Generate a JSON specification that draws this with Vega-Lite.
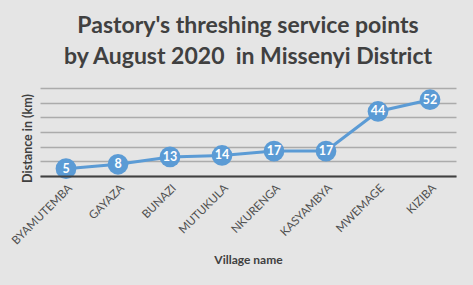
{
  "$schema": "https://vega.github.io/schema/vega-lite/v6.json",
  "width": 416,
  "height": 88,
  "autosize": {"type": "none"},
  "padding": {"left": 40, "top": 88, "right": 17, "bottom": 109},
  "background": "#e5e5e5",
  "title": {
    "text": ["Pastory's threshing service points", "by August 2020\u00a0 in Missenyi District"],
    "font": "Lato",
    "fontSize": 23,
    "fontWeight": "bold",
    "color": "#404040",
    "anchor": "middle",
    "lineHeight": 31,
    "offset": 19
  },
  "config": {
    "view": {"stroke": null},
    "font": "Lato"
  },
  "data": {
    "values": [
      {"village": "BYAMUTEMBA", "distance": 5},
      {"village": "GAYAZA", "distance": 8},
      {"village": "BUNAZI", "distance": 13},
      {"village": "MUTUKULA", "distance": 14},
      {"village": "NKURENGA", "distance": 17},
      {"village": "KASYAMBYA", "distance": 17},
      {"village": "MWEMAGE", "distance": 44},
      {"village": "KIZIBA", "distance": 52}
    ]
  },
  "encoding": {
    "x": {
      "field": "village",
      "type": "ordinal",
      "sort": null,
      "scale": {"type": "point", "padding": 0.5},
      "axis": {
        "title": "Village name",
        "titleFont": "Lato",
        "titleFontSize": 12,
        "titleFontWeight": "bold",
        "titleColor": "#404040",
        "titleBaseline": "middle",
        "titleY": 83,
        "labelAngle": -45,
        "labelFontSize": 11.5,
        "labelColor": "#505050",
        "labelPadding": 6,
        "ticks": false,
        "domainColor": "#404040",
        "domainWidth": 2,
        "zindex": 1
      }
    },
    "y": {
      "field": "distance",
      "type": "quantitative",
      "scale": {"domain": [0, 60]},
      "axis": {
        "title": "Distance in (km)",
        "titleFontSize": 12.5,
        "titleFontWeight": "bold",
        "titleColor": "#404040",
        "titleAngle": -90,
        "titleBaseline": "middle",
        "titleAlign": "center",
        "titleX": -13,
        "titleY": 50,
        "values": [0, 10, 20, 30, 40, 50, 60],
        "labels": false,
        "ticks": false,
        "domain": false,
        "grid": true,
        "gridColor": "#ababab",
        "gridWidth": 1.5
      }
    }
  },
  "layer": [
    {"mark": {"type": "line", "color": "#5B9BD5", "strokeWidth": 3}},
    {"mark": {"type": "point", "shape": "circle", "filled": true, "opacity": 1, "size": 430, "color": "#5B9BD5"}},
    {
      "mark": {"type": "text", "color": "white", "fontWeight": "bold", "fontSize": 12.5, "font": "Lato"},
      "encoding": {"text": {"field": "distance", "type": "quantitative"}}
    }
  ]
}
